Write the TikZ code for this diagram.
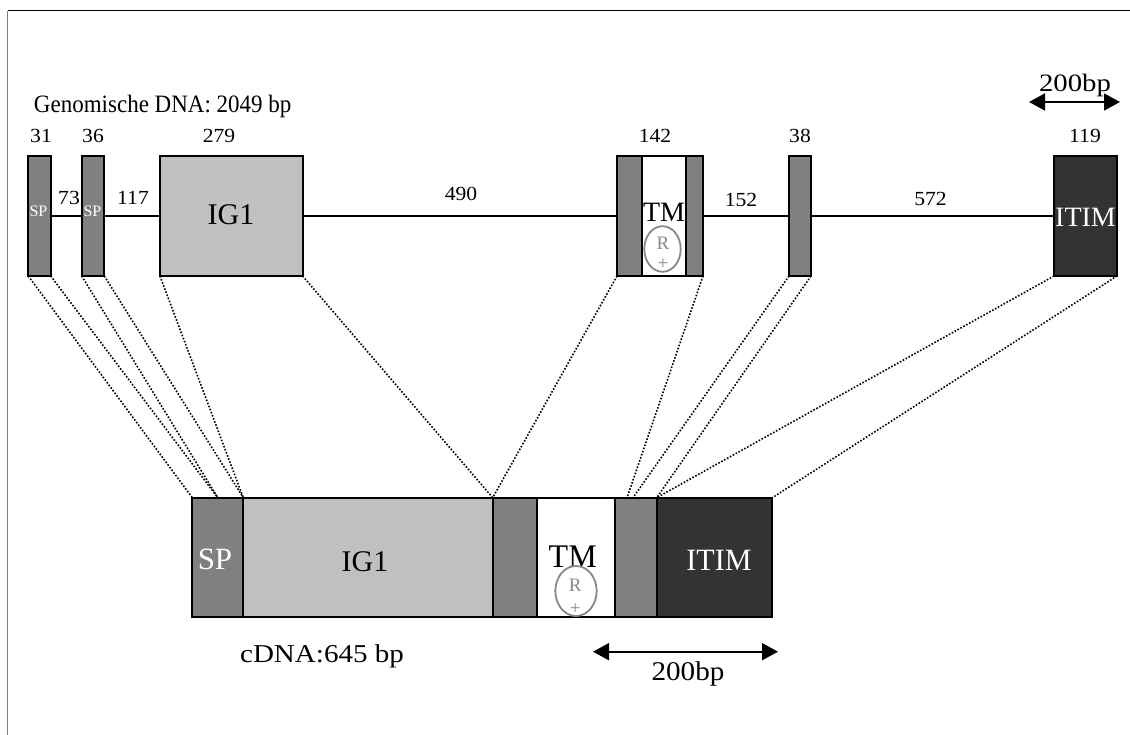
\documentclass[tikz,border=0pt]{standalone}
\usepackage{fontspec}
\setmainfont{Liberation Serif}
\usetikzlibrary{arrows.meta,shapes.geometric}

\definecolor{exongray}{HTML}{808080}
\definecolor{iglight}{HTML}{C0C0C0}
\definecolor{itimdark}{HTML}{333333}
\definecolor{rgray}{HTML}{888888}

\tikzset{
  fs/.style 2 args={font=\fontsize{#1}{#1}\selectfont\addfontfeatures{FakeStretch=#2}},
  lbl/.style={inner sep=0pt, outer sep=0pt, anchor=base},
  box/.style={draw=black, line width=1.8pt, inner sep=0pt, outer sep=0pt, rectangle},
  exon/.style={box, fill=exongray},
  igbox/.style={box, fill=iglight},
  itbox/.style={box, fill=itimdark},
  tmbox/.style={box, fill=white},
  intron/.style={line width=1.8pt},
  splice/.style={line width=1.6pt, dash pattern=on 1.6pt off 1.7pt},
  ring/.style={ellipse, draw=rgray, line width=1.8pt, inner sep=0pt},
  scalebar/.style={line width=1.8pt, {Triangle[length=16pt,width=17pt]}-{Triangle[length=16pt,width=17pt]}},
}

\begin{document}
\begin{tikzpicture}[x=1pt, y=-1pt]
  \useasboundingbox (0,0) rectangle (1130,735);

  % frame edges
  \draw[black, line width=1pt] (7.5,10.7) -- (1130,10.7);
  \draw[gray, line width=1.5pt] (7.5,10.7) -- (7.5,735);

  % ---------- genomic DNA ----------
  \node[lbl, fs={25}{0.92}, anchor=base west] (gtitle) at (34,112.3) {Genomische DNA: 2049 bp};

  \node[exon, minimum width=22.4pt, minimum height=120pt] (sp1) at (39.5,216) {};
  \node[exon, minimum width=22.6pt, minimum height=120pt] (sp2) at (93,216) {};
  \node[igbox, minimum width=142.7pt, minimum height=120pt] (ig1) at (231.3,216) {};
  \node[exon, minimum width=25pt, minimum height=120pt] (tml) at (629.5,216) {};
  \node[tmbox, minimum width=44pt, minimum height=120pt] (tmw) at (664,216) {};
  \node[exon, minimum width=17pt, minimum height=120pt] (tmr) at (694.5,216) {};
  \node[exon, minimum width=22pt, minimum height=120pt] (e38) at (800,216) {};
  \node[itbox, minimum width=63pt, minimum height=120pt] (itim) at (1085.5,216) {};

  % introns
  \draw[intron] (sp1.east) -- (sp2.west);
  \draw[intron] (sp2.east) -- (ig1.west);
  \draw[intron] (ig1.east) -- (tml.west);
  \draw[intron] (tmr.east) -- (e38.west);
  \draw[intron] (e38.east) -- (itim.west);

  % exon labels
  \node[lbl, fs={16}{1}, text=white] (sp1t) at (38.5,217) {SP};
  \node[lbl, fs={16}{1}, text=white] (sp2t) at (92.5,217) {SP};
  \node[lbl, fs={30}{1}] (ig1t) at (231,225) {IG1};
  \node[lbl, fs={28}{1}] (tmt) at (664,221.7) {TM};
  \node[ring, minimum width=36.4pt, minimum height=45.6pt] (rk1) at (662.5,249) {};
  \node[lbl, fs={19}{1}, text=rgray] (r1) at (663,250) {R};
  \node[lbl, fs={19}{1}, text=rgray] (p1) at (663,269.8) {+};
  \node[lbl, fs={28}{1}, text=white] (itimt) at (1085.5,226.7) {ITIM};

  % sizes
  \node[lbl, fs={20}{1.08}] (n31) at (41,142.3) {31};
  \node[lbl, fs={20}{1.08}] (n36) at (93,142.3) {36};
  \node[lbl, fs={20}{1.08}] (n279) at (219,142.3) {279};
  \node[lbl, fs={20}{1.08}] (n142) at (655,142.3) {142};
  \node[lbl, fs={20}{1.08}] (n38) at (800,142.3) {38};
  \node[lbl, fs={20}{1.08}] (n119) at (1085,142.3) {119};
  \node[lbl, fs={20}{1.08}] (n73) at (69,205) {73};
  \node[lbl, fs={20}{1.08}] (n117) at (133,205) {117};
  \node[lbl, fs={20}{1.08}] (n490) at (461,201) {490};
  \node[lbl, fs={20}{1.08}] (n152) at (741,206.5) {152};
  \node[lbl, fs={20}{1.08}] (n572) at (930.5,206) {572};

  % scale bar (genomic)
  \coordinate (gbarL) at (1029,102);
  \coordinate (gbarR) at (1120,102);
  \draw[scalebar] (gbarL) -- (gbarR);
  \node[lbl, fs={25}{1.15}] (gbar) at (1075,91.7) {200bp};

  % ---------- cDNA ----------
  \node[exon, minimum width=51pt, minimum height=119pt] (spc) at (217.8,557.2) {};
  \node[igbox, minimum width=249.4pt, minimum height=119pt] (igc) at (368,557.2) {};
  \node[exon, minimum width=44pt, minimum height=119pt] (g1c) at (514.7,557.2) {};
  \node[tmbox, minimum width=78.3pt, minimum height=119pt] (tmc) at (575.85,557.2) {};
  \node[exon, minimum width=41.7pt, minimum height=119pt] (g2c) at (635.85,557.2) {};
  \node[itbox, minimum width=115.6pt, minimum height=119pt] (itc) at (714.5,557.2) {};

  \node[lbl, fs={31}{1}, text=white] (spct) at (215,569.3) {SP};
  \node[lbl, fs={30}{1}] (igct) at (365,571.7) {IG1};
  \node[lbl, fs={33}{0.97}] (tmct) at (572.7,567.3) {TM};
  \node[ring, minimum width=41.4pt, minimum height=50pt] (rk2) at (576,591) {};
  \node[lbl, fs={19}{1}, text=rgray] (r2) at (575.3,591.7) {R};
  \node[lbl, fs={19}{1}, text=rgray] (p2) at (575.3,614.8) {+};
  \node[lbl, fs={31}{0.97}, text=white] (itct) at (719,570.7) {ITIM};

  \node[lbl, fs={25.7}{1.13}] (ctitle) at (322,662.7) {cDNA:645 bp};

  % scale bar (cDNA)
  \coordinate (cbarL) at (593,651.7);
  \coordinate (cbarR) at (778,651.7);
  \draw[scalebar] (cbarL) -- (cbarR);
  \node[lbl, fs={27}{1.08}] (cbar) at (688,680) {200bp};

  % ---------- splice correspondence ----------
  \coordinate (j1) at (627,497.7);
  \coordinate (j2) at (633,497.7);
  \draw[splice] (sp1.south west) -- (spc.north west);
  \draw[splice] (sp1.south east) -- (spc.north);
  \draw[splice] (sp2.south west) -- (spc.north);
  \draw[splice] (sp2.south east) -- (igc.north west);
  \draw[splice] (ig1.south west) -- (igc.north west);
  \draw[splice] (ig1.south east) -- (igc.north east);
  \draw[splice] (tml.south west) -- (igc.north east);
  \draw[splice] (tmr.south east) -- (j1);
  \draw[splice] (e38.south west) -- (j2);
  \draw[splice] (e38.south east) -- (itc.north west);
  \draw[splice] (itim.south west) -- (itc.north west);
  \draw[splice] (itim.south east) -- (itc.north east);
\end{tikzpicture}
\end{document}
